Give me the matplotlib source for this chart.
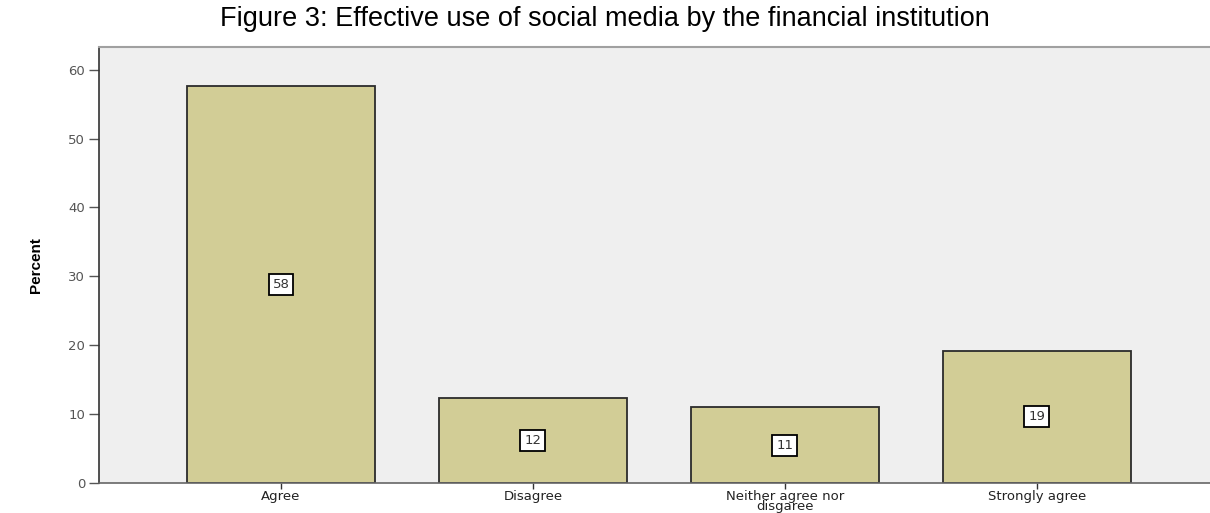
#!/usr/bin/env python3

# Import Packages
import matplotlib
matplotlib.use('Agg')
import matplotlib.pyplot as plt

# Chart data
categories = ['Agree', 'Disagree', 'Neither agree nor\ndisgaree', 'Strongly agree']
percents = [57.6, 12.3, 11.0, 19.2]
labels = ['58', '12', '11', '19']
yticks = [0, 10, 20, 30, 40, 50, 60]

# Figure and axes placement
fig = plt.figure(figsize=(12.1, 5.13), dpi=100)
ax = fig.add_axes([0.0818, 0.0585, 0.9182, 0.85])
ax.set_facecolor('#efefef')

# Bars
x = range(len(categories))
bars = ax.bar(x, percents, width=0.746, color='#d2cd96', edgecolor='#2b2b2b', linewidth=1.3)

# Value labels in the middle of each bar
for b, lab in zip(bars, labels):
    ax.text(b.get_x() + b.get_width() / 2, b.get_height() / 2, lab,
            ha='center', va='center', fontsize=9.5, color='#333333',
            bbox=dict(boxstyle='square,pad=0.3', facecolor='white', edgecolor='black', linewidth=1.3))

# Axes
ax.set_xlim(-0.722, 3.687)
ax.set_ylim(0, 63.3)
ax.set_yticks(yticks)
ax.set_yticklabels([str(t) for t in yticks], fontsize=9.5, color='#555555')
ax.set_xticks(list(x))
ax.set_xticklabels(categories, fontsize=9.5, color='#222222', linespacing=0.7)
ax.tick_params(axis='y', length=7, width=1, color='#555555', pad=3)
ax.tick_params(axis='x', length=4, width=1, color='#333333', pad=1)

# Spines
ax.spines['right'].set_visible(False)
ax.spines['top'].set_color('#a0a0a0')
ax.spines['top'].set_linewidth(1.5)
ax.spines['left'].set_color('#333333')
ax.spines['left'].set_linewidth(1.2)
ax.spines['bottom'].set_color('#666666')
ax.spines['bottom'].set_linewidth(1.2)

# Axis label and title
ax.set_ylabel('Percent', fontsize=11, fontweight='bold', family='Liberation Sans', labelpad=18)
fig.text(0.5, 0.962, 'Figure 3: Effective use of social media by the financial institution',
         ha='center', va='center', fontsize=19.5, family='Liberation Sans', color='black')

fig.savefig('out.png', dpi=100)
